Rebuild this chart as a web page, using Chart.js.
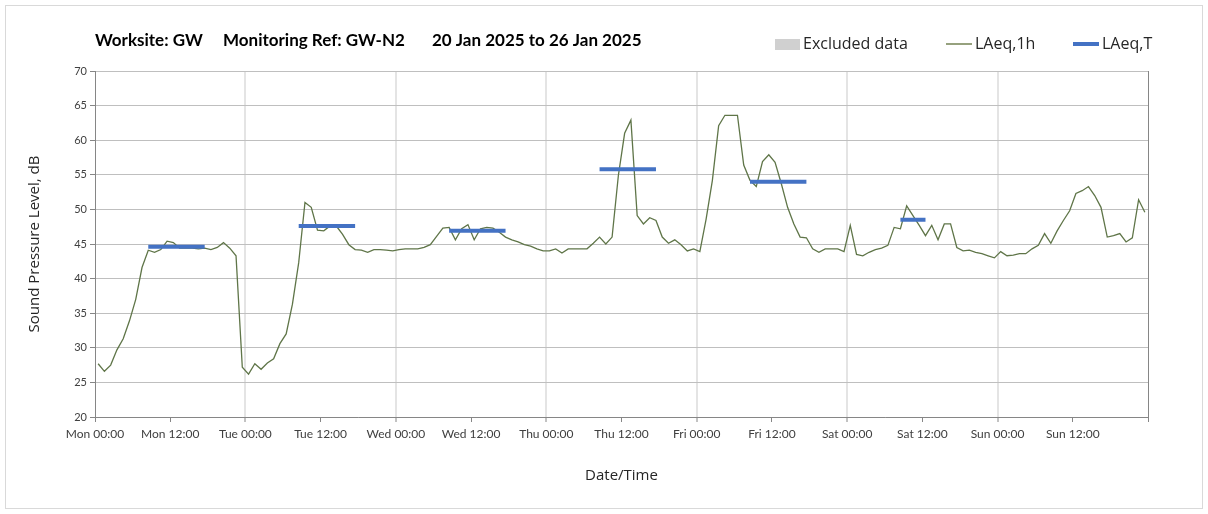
<!DOCTYPE html>
<html>
<head>
<meta charset="utf-8">
<script src="https://cdn.jsdelivr.net/npm/chart.js@4.4.1/dist/chart.umd.min.js"></script>
<style>
  html, body { margin: 0; padding: 0; background: #fff; }
  #wrap { width: 1208px; height: 514px; position: relative; }
</style>
</head>
<body>
<div id="wrap"><canvas id="noiseChart"></canvas></div>
<script>
// hourly LAeq,1h readings, Mon 00:00 -> Sun 23:00 (168 hours)
let laeq1h = [
    27.7, 26.6, 27.5, 29.7, 31.3, 33.9, 37.0, 41.6, 44.1, 43.8, 44.2, 45.4,
    45.2, 44.4, 44.4, 44.4, 44.3, 44.4, 44.2, 44.5, 45.2, 44.4, 43.3, 27.2,
    26.2, 27.7, 26.9, 27.8, 28.4, 30.6, 32.0, 36.3, 42.3, 51.0, 50.3, 47.0,
    46.9, 47.6, 47.6, 46.4, 44.9, 44.2, 44.1, 43.8, 44.2, 44.2, 44.1, 44.0,
    44.2, 44.3, 44.3, 44.3, 44.5, 44.9, 46.1, 47.3, 47.4, 45.6, 47.2, 47.8,
    45.6, 47.2, 47.4, 47.3, 46.7, 46.0, 45.6, 45.3, 44.9, 44.7, 44.3, 44.0,
    44.0, 44.3, 43.7, 44.3, 44.3, 44.3, 44.3, 45.1, 46.0, 45.0, 46.0, 54.9,
    61.0, 62.9, 49.1, 47.9, 48.8, 48.4, 46.0, 45.1, 45.6, 44.9, 44.0, 44.3,
    43.9, 48.6, 54.2, 62.1, 63.6, 63.6, 63.6, 56.4, 54.2, 53.3, 56.9, 57.9,
    56.8, 53.7, 50.3, 47.9, 46.0, 45.9, 44.3, 43.8, 44.3, 44.3, 44.3, 43.9,
    47.7, 43.5, 43.3, 43.8, 44.2, 44.4, 44.8, 47.4, 47.2, 50.5, 49.1, 47.7,
    46.2, 47.7, 45.6, 47.9, 47.9, 44.5, 44.0, 44.1, 43.8, 43.6, 43.3, 43.0,
    43.9, 43.3, 43.4, 43.6, 43.6, 44.3, 44.8, 46.5, 45.1, 46.9, 48.4, 49.8,
    52.3, 52.7, 53.3, 52.0, 50.3, 46.0, 46.2, 46.5, 45.3, 45.9, 51.4, 49.6
];

// LAeq,T over each working period (first / last hour index, level)
let periodStart = [8, 32, 56, 80, 104, 128];
let periodEnd = [17, 41, 65, 89, 113, 132];
let periodLevel = [44.6, 47.6, 46.9, 55.8, 54.0, 48.5];

let tickLabels = [
    'Mon 00:00', 'Mon 12:00', 'Tue 00:00', 'Tue 12:00', 'Wed 00:00', 'Wed 12:00',
    'Thu 00:00', 'Thu 12:00', 'Fri 00:00', 'Fri 12:00', 'Sat 00:00', 'Sat 12:00',
    'Sun 00:00', 'Sun 12:00'
];

let hourlyPoints = laeq1h.map((v, i) => ({ x: i + 0.5, y: v }));

let periodPoints = [];
periodStart.forEach((s, i) => {
    periodPoints.push({ x: s + 0.5, y: periodLevel[i] });
    periodPoints.push({ x: periodEnd[i] + 0.5, y: periodLevel[i] });
    periodPoints.push({ x: periodEnd[i] + 0.5, y: null }); // break between periods
});

const axisGrey = '#868686';
const textGrey = '#404040';

// title, legend and the outer frame
const decorations = {
    id: 'decorations',
    beforeDraw(chart) {
        const c = chart.ctx;
        c.save();
        c.fillStyle = '#fff';
        c.fillRect(0, 0, chart.width, chart.height);
        c.restore();
    },
    afterDraw(chart) {
        const c = chart.ctx;
        c.save();
        c.strokeStyle = '#d9d9d9';
        c.lineWidth = 1;
        c.strokeRect(5.5, 5.5, 1197, 503);

        c.fillStyle = '#000';
        c.font = 'bold 17px Lato';
        c.textBaseline = 'middle';
        c.fillText('Worksite: GW', 95, 41);
        c.fillText('Monitoring Ref: GW-N2', 223, 41);
        c.fillText('20 Jan 2025 to 26 Jan 2025', 432, 41);

        c.font = '16px "Open Sans"';
        c.fillStyle = '#d0d0d0';
        c.fillRect(775, 39, 25, 11);
        c.fillStyle = '#262626';
        c.fillText('Excluded data', 803, 44);

        c.strokeStyle = '#4f6228';
        c.lineWidth = 1.2;
        c.beginPath();
        c.moveTo(946, 44);
        c.lineTo(972, 44);
        c.stroke();
        c.fillText('LAeq,1h', 975, 44);

        c.strokeStyle = '#4472c4';
        c.lineWidth = 4;
        c.beginPath();
        c.moveTo(1073, 44);
        c.lineTo(1099, 44);
        c.stroke();
        c.fillText('LAeq,T', 1102, 44);
        c.restore();
    }
};

let ctx = document.querySelector('#noiseChart').getContext('2d');

let noiseChart = new Chart(ctx, {
    type: 'line',
    data: {
        datasets: [
            {
                label: 'LAeq,T',
                data: periodPoints,
                borderColor: '#4472c4',
                borderWidth: 4,
                pointRadius: 0,
                spanGaps: false,
                tension: 0
            },
            {
                label: 'LAeq,1h',
                data: hourlyPoints,
                borderColor: '#5f7548',
                borderWidth: 1.3,
                pointRadius: 0,
                tension: 0
            }
        ]
    },
    options: {
        responsive: true,
        maintainAspectRatio: false,
        animation: false,
        events: [],
        layout: { padding: { top: 71, right: 60, left: 0, bottom: 0 } },
        plugins: {
            legend: { display: false },
            title: { display: false },
            tooltip: { enabled: false }
        },
        scales: {
            x: {
                type: 'linear',
                min: 0,
                max: 168,
                afterFit: s => { s.height = 97; },
                ticks: {
                    stepSize: 12,
                    autoSkip: false,
                    maxRotation: 0,
                    padding: 5,
                    color: textGrey,
                    font: { family: 'Lato', size: 12 },
                    callback: (value, index) => tickLabels[index] || ''
                },
                grid: {
                    color: c => {
                        const v = c.tick.value;
                        if (v === 168) return axisGrey;
                        return v % 24 === 0 ? '#e4e4e4' : 'rgba(0,0,0,0)';
                    },
                    lineWidth: c => (c.tick.value % 24 === 0 && c.tick.value > 0 && c.tick.value < 168) ? 2 : 1,
                    tickColor: axisGrey,
                    tickLength: 5,
                    tickWidth: 1
                },
                border: { color: axisGrey, width: 1 },
                title: {
                    display: true,
                    text: 'Date/Time',
                    color: '#262626',
                    font: { family: 'Open Sans', size: 15 },
                    padding: { top: 0, bottom: 29 }
                }
            },
            y: {
                min: 20,
                max: 70,
                afterFit: s => { s.width = 95; },
                ticks: {
                    stepSize: 5,
                    padding: 3,
                    color: textGrey,
                    font: { family: 'Lato', size: 11 }
                },
                grid: {
                    color: '#bfbfbf',
                    lineWidth: 1,
                    tickColor: axisGrey,
                    tickLength: 5
                },
                border: { color: axisGrey, width: 1 },
                title: {
                    display: true,
                    text: 'Sound Pressure Level, dB',
                    color: '#262626',
                    font: { family: 'Open Sans', size: 15 },
                    padding: { top: 26, bottom: 0 }
                }
            }
        }
    },
    plugins: [decorations]
});
</script>
</body>
</html>
